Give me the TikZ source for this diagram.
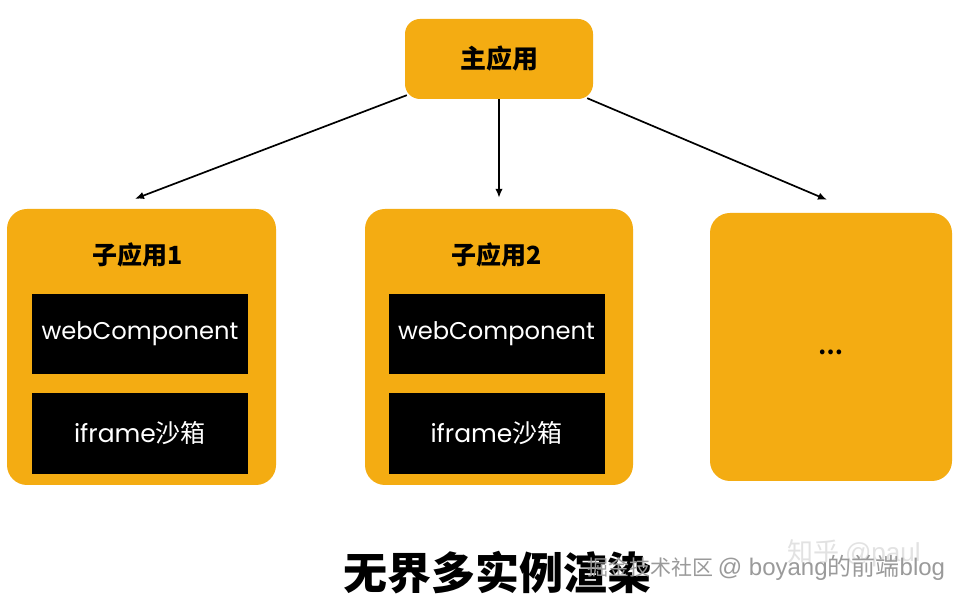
\documentclass[tikz,border=0pt]{standalone}
\usepackage{fontspec}
\usetikzlibrary{arrows.meta,calc}
\newfontfamily\latin{Poppins}
\newfontfamily\cjk{Noto Sans CJK SC}
\newfontfamily\wmlat{Liberation Sans}
\definecolor{appor}{HTML}{F4AC12}
\definecolor{wmgray}{HTML}{9A9A9A}
\definecolor{wmlight}{HTML}{E2E2E2}
\tikzset{
  appbox/.style={fill=appor, draw=none, rounded corners=#1},
  appbox/.default=20pt,
  blackbox/.style={fill=black, draw=none, text=white, minimum width=216pt, minimum height=80pt, inner sep=0pt},
  arr/.style={draw=black, line width=1.7pt, -{Latex[length=9pt,width=7.5pt]}},
}
\begin{document}
\begin{tikzpicture}[x=1pt,y=1pt]
\useasboundingbox (0,0) rectangle (966,599);
\fill[white] (0,0) rectangle (966,599);

% main app
\node[appbox=15pt, minimum width=188pt, minimum height=80pt, inner sep=0pt] (main) at (499,540) {};
\node (maintxt) at (499,540) {\cjk\bfseries\fontsize{26}{30}\selectfont 主应用};

% sub app 1
\node[appbox, minimum width=269pt, minimum height=276pt, inner sep=0pt] (s1) at (141.5,252) {};
\node (s1t) at (138,344) {\cjk\bfseries\fontsize{25}{30}\selectfont 子应用1};
\node[blackbox] (s1w) at (140,265) {\latin\fontsize{24.2}{28}\selectfont webComponent};
\node[blackbox, minimum height=81pt] (s1i) at (140,165.5) {\fontsize{25}{28}\selectfont\latin iframe\cjk 沙箱};

% sub app 2
\node[appbox, minimum width=268pt, minimum height=276pt, inner sep=0pt] (s2) at (499,252) {};
\node (s2t) at (497,344) {\cjk\bfseries\fontsize{25}{30}\selectfont 子应用2};
\node[blackbox] (s2w) at (496.5,265) {\latin\fontsize{24.2}{28}\selectfont webComponent};
\node[blackbox, minimum height=81pt] (s2i) at (496.5,165.5) {\fontsize{25}{28}\selectfont\latin iframe\cjk 沙箱};

% sub app 3
\node[appbox, minimum width=242pt, minimum height=268pt, inner sep=0pt] (s3) at (831,252) {};
\node (s3t) at (831,247) {\cjk\bfseries\fontsize{22}{26}\selectfont …};

% arrows
\draw[arr] ($(main.south west)+(2,4)$) -- ($(s1.north)+(-6.5,10)$);
\draw[arr] (main.south) -- ($(s2.north)+(0,11)$);
\draw[arr] ($(main.south east)+(-6,1)$) -- ($(s3.north)+(-4,13)$);

% bottom title
\node (title) at (497,26) {\cjk\bfseries\fontsize{44}{50}\selectfont 无界多实例渲染};

% watermarks
\node[anchor=base west, inner sep=0pt, text=wmlight] (wm2) at (787,37) {\cjk\fontsize{26}{30}\selectfont 知乎 \wmlat @paul};
\node[anchor=base west, inner sep=0pt, text=wmgray] (wm1) at (587,23) {\cjk\fontsize{21}{24}\selectfont 掘金技术社区 \fontsize{24}{28}\selectfont\wmlat @ boyang\cjk 的前端\wmlat blog};
\end{tikzpicture}
\end{document}
